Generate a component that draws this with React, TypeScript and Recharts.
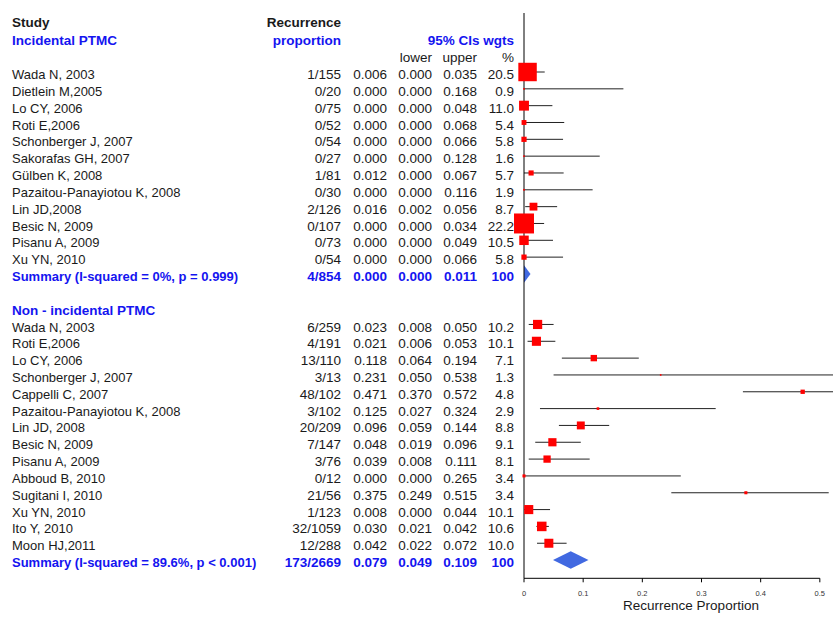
import React from 'react';
import { ComposedChart, XAxis, YAxis, Scatter, ErrorBar, Area, ReferenceLine, Label } from 'recharts';

const FONT = '"Liberation Sans", Arial, Helvetica, sans-serif';
const BLUE_TEXT = '#1414f0';
const DIAMOND = '#4169E1';
const DARK_TEXT = '#1a1a1a';

// ---------- Incidental PTMC ----------
const incStudies = [
  'Wada N, 2003', 'Dietlein M,2005', 'Lo CY, 2006', 'Roti E,2006', 'Schonberger J, 2007',
  'Sakorafas GH, 2007', 'Gülben K, 2008', 'Pazaitou-Panayiotou K, 2008', 'Lin JD,2008',
  'Besic N, 2009', 'Pisanu A, 2009', 'Xu YN, 2010',
];
const incCounts = ['1/155', '0/20', '0/75', '0/52', '0/54', '0/27', '1/81', '0/30', '2/126', '0/107', '0/73', '0/54'];
const incEst = [0.006, 0.0, 0.0, 0.0, 0.0, 0.0, 0.012, 0.0, 0.016, 0.0, 0.0, 0.0];
const incLower = [0.0, 0.0, 0.0, 0.0, 0.0, 0.0, 0.0, 0.0, 0.002, 0.0, 0.0, 0.0];
const incUpper = [0.035, 0.168, 0.048, 0.068, 0.066, 0.128, 0.067, 0.116, 0.056, 0.034, 0.049, 0.066];
const incWgt = [20.5, 0.9, 11.0, 5.4, 5.8, 1.6, 5.7, 1.9, 8.7, 22.2, 10.5, 5.8];
const incSummary = { label: 'Summary (I-squared = 0%, p = 0.999)', count: '4/854', est: 0.0, lower: 0.0, upper: 0.011, wgt: '100' };

// ---------- Non - incidental PTMC ----------
const nonStudies = [
  'Wada N, 2003', 'Roti E,2006', 'Lo CY, 2006', 'Schonberger J, 2007', 'Cappelli C, 2007',
  'Pazaitou-Panayiotou K, 2008', 'Lin JD, 2008', 'Besic N, 2009', 'Pisanu A, 2009',
  'Abboud B, 2010', 'Sugitani I, 2010', 'Xu YN, 2010', 'Ito Y, 2010', 'Moon HJ,2011',
];
const nonCounts = ['6/259', '4/191', '13/110', '3/13', '48/102', '3/102', '20/209', '7/147', '3/76', '0/12', '21/56', '1/123', '32/1059', '12/288'];
const nonEst = [0.023, 0.021, 0.118, 0.231, 0.471, 0.125, 0.096, 0.048, 0.039, 0.0, 0.375, 0.008, 0.03, 0.042];
const nonLower = [0.008, 0.006, 0.064, 0.05, 0.37, 0.027, 0.059, 0.019, 0.008, 0.0, 0.249, 0.0, 0.021, 0.022];
const nonUpper = [0.05, 0.053, 0.194, 0.538, 0.572, 0.324, 0.144, 0.096, 0.111, 0.265, 0.515, 0.044, 0.042, 0.072];
const nonWgt = [10.2, 10.1, 7.1, 1.3, 4.8, 2.9, 8.8, 9.1, 8.1, 3.4, 3.4, 10.1, 10.6, 10.0];
const nonSummary = { label: 'Summary (I-squared = 89.6%, p < 0.001)', count: '173/2669', est: 0.079, lower: 0.049, upper: 0.109, wgt: '100' };

const xTicks = [0, 0.1, 0.2, 0.3, 0.4, 0.5];
const groupTitles = ['Incidental PTMC', 'Non - incidental PTMC'];

// ---------- layout of rows (row index = position on the y axis) ----------
const Y_DOMAIN: [number, number] = [-0.5057, 33.083];
const DIAMOND_HALF = 0.52;

type Row = {
  row: number;
  kind: 'head0' | 'head1' | 'head2' | 'study' | 'group' | 'summary';
  label?: string; count?: string; est?: string; lower?: string; upper?: string; wgt?: string;
};

const f3 = (v: number) => v.toFixed(3);

const rows: Row[] = [];
rows.push({ row: -0.1, kind: 'head0' });
rows.push({ row: 1, kind: 'head1', label: groupTitles[0] });
rows.push({ row: 2, kind: 'head2' });
incStudies.forEach((s, i) => rows.push({ row: 3 + i, kind: 'study', label: s, count: incCounts[i], est: f3(incEst[i]), lower: f3(incLower[i]), upper: f3(incUpper[i]), wgt: incWgt[i].toFixed(1) }));
const incSumRow = 3 + incStudies.length;
rows.push({ row: incSumRow, kind: 'summary', label: incSummary.label, count: incSummary.count, est: f3(incSummary.est), lower: f3(incSummary.lower), upper: f3(incSummary.upper), wgt: incSummary.wgt });
const nonHeadRow = incSumRow + 2;
rows.push({ row: nonHeadRow, kind: 'group', label: groupTitles[1] });
nonStudies.forEach((s, i) => rows.push({ row: nonHeadRow + 1 + i, kind: 'study', label: s, count: nonCounts[i], est: f3(nonEst[i]), lower: f3(nonLower[i]), upper: f3(nonUpper[i]), wgt: nonWgt[i].toFixed(1) }));
const nonSumRow = nonHeadRow + 1 + nonStudies.length;
rows.push({ row: nonSumRow, kind: 'summary', label: nonSummary.label, count: nonSummary.count, est: f3(nonSummary.est), lower: f3(nonSummary.lower), upper: f3(nonSummary.upper), wgt: nonSummary.wgt });

const rowMap = new Map<number, Row>(rows.map((r) => [r.row, r]));
const rowTicks = rows.map((r) => r.row);

const points = [
  ...incEst.map((e, i) => ({ x: e, row: 3 + i, w: incWgt[i], err: [e - incLower[i], incUpper[i] - e] })),
  ...nonEst.map((e, i) => ({ x: e, row: nonHeadRow + 1 + i, w: nonWgt[i], err: [e - nonLower[i], nonUpper[i] - e] })),
];

const diamond = (s: { est: number; lower: number; upper: number }, row: number) => [
  { x: s.lower, yr: [row, row] },
  { x: s.est, yr: [row - DIAMOND_HALF, row + DIAMOND_HALF] },
  { x: s.upper, yr: [row, row] },
];
const incDiamond = diamond(incSummary, incSumRow);
const nonDiamond = diamond(nonSummary, nonSumRow);

// column anchors for the table text
const COL_LABEL = 12;
const COL_COUNT = 341;
const COL_EST = 387;
const COL_LOWER = 432;
const COL_UPPER = 477;
const COL_WGT = 514;

function T(props: { x: number; y: number; anchor?: 'start' | 'end'; bold?: boolean; blue?: boolean; size?: number; children: React.ReactNode }) {
  return (
    <text
      x={props.x}
      y={props.y}
      textAnchor={props.anchor || 'end'}
      fontFamily={FONT}
      fontSize={props.size || 13.5}
      fontWeight={props.bold ? 'bold' : 'normal'}
      fill={props.blue ? BLUE_TEXT : DARK_TEXT}
    >
      {props.children}
    </text>
  );
}

function RowTick(props: any) {
  const { y, payload } = props;
  const r = rowMap.get(payload.value);
  if (!r) return null;
  const by = y + 7.05;
  if (r.kind === 'head0') {
    return (
      <g>
        <T x={COL_LABEL} y={by} anchor="start" bold>Study</T>
        <T x={COL_COUNT} y={by} bold>Recurrence</T>
      </g>
    );
  }
  if (r.kind === 'head1') {
    return (
      <g>
        <T x={COL_LABEL} y={by} anchor="start" bold blue>{r.label}</T>
        <T x={COL_COUNT} y={by} bold blue>proportion</T>
        <T x={COL_WGT} y={by} bold blue>95% CIs wgts</T>
      </g>
    );
  }
  if (r.kind === 'head2') {
    return (
      <g>
        <T x={COL_LOWER} y={by}>lower</T>
        <T x={COL_UPPER} y={by}>upper</T>
        <T x={COL_WGT} y={by}>%</T>
      </g>
    );
  }
  if (r.kind === 'group') {
    return <T x={COL_LABEL} y={by} anchor="start" bold blue>{r.label}</T>;
  }
  const s = r.kind === 'summary';
  return (
    <g>
      <T x={COL_LABEL} y={by} anchor="start" bold={s} blue={s} size={13}>{r.label}</T>
      <T x={COL_COUNT} y={by} bold={s} blue={s}>{r.count}</T>
      <T x={COL_EST} y={by} bold={s} blue={s}>{r.est}</T>
      <T x={COL_LOWER} y={by} bold={s} blue={s}>{r.lower}</T>
      <T x={COL_UPPER} y={by} bold={s} blue={s}>{r.upper}</T>
      <T x={COL_WGT} y={by} bold={s} blue={s}>{r.wgt}</T>
    </g>
  );
}

function SquareShape(props: any) {
  const { cx, cy, payload } = props;
  if (cx == null || cy == null) return null;
  const side = Math.max(1.6, payload.w * 0.9);
  return <rect x={cx - side / 2} y={cy - side / 2} width={side} height={side} fill="#ff0000" />;
}

function NoShape() {
  return <g />;
}

function AxisTitle(props: any) {
  const vb = props.viewBox || {};
  return (
    <text
      x={vb.x + vb.width / 2 - 10.5}
      y={vb.y + vb.height - 8}
      textAnchor="middle"
      fontFamily={FONT}
      fontSize={13.5}
      fill={DARK_TEXT}
    >
      Recurrence Proportion
    </text>
  );
}

export default function App() {
  return (
    <div style={{ position: 'absolute', left: 0, top: 0, width: 833, height: 618, overflow: 'hidden', background: '#fff' }}>
      <ComposedChart width={879} height={618} margin={{ top: 13, right: 0, bottom: 0, left: 0 }}>
        <XAxis
          type="number"
          dataKey="x"
          domain={[0, 0.6]}
          ticks={xTicks}
          height={39.7}
          axisLine={false}
          tickLine={{ stroke: '#000' }}
          tickSize={4}
          tickMargin={8.5}
          tick={{ fontSize: 7.5, fill: '#333', fontFamily: FONT }}
        >
          <Label content={AxisTitle} />
        </XAxis>
        <YAxis
          type="number"
          dataKey="row"
          domain={Y_DOMAIN}
          reversed
          width={524}
          ticks={rowTicks}
          interval={0}
          tick={RowTick}
          tickLine={false}
          axisLine={{ stroke: '#000' }}
        />
        <ReferenceLine
          segment={[{ x: 0, y: Y_DOMAIN[1] }, { x: 0.5, y: Y_DOMAIN[1] }]}
          stroke="#000"
          ifOverflow="visible"
        />
        <Area data={incDiamond} dataKey="yr" type="linear" stroke="none" fill={DIAMOND} fillOpacity={1} dot={false} activeDot={false} isAnimationActive={false} />
        <Area data={nonDiamond} dataKey="yr" type="linear" stroke="none" fill={DIAMOND} fillOpacity={1} dot={false} activeDot={false} isAnimationActive={false} />
        <Scatter data={points} shape={NoShape} isAnimationActive={false}>
          <ErrorBar dataKey="err" direction="x" width={0} stroke="#222" strokeWidth={1} isAnimationActive={false} />
        </Scatter>
        <Scatter data={points} shape={SquareShape} isAnimationActive={false} />
      </ComposedChart>
    </div>
  );
}
